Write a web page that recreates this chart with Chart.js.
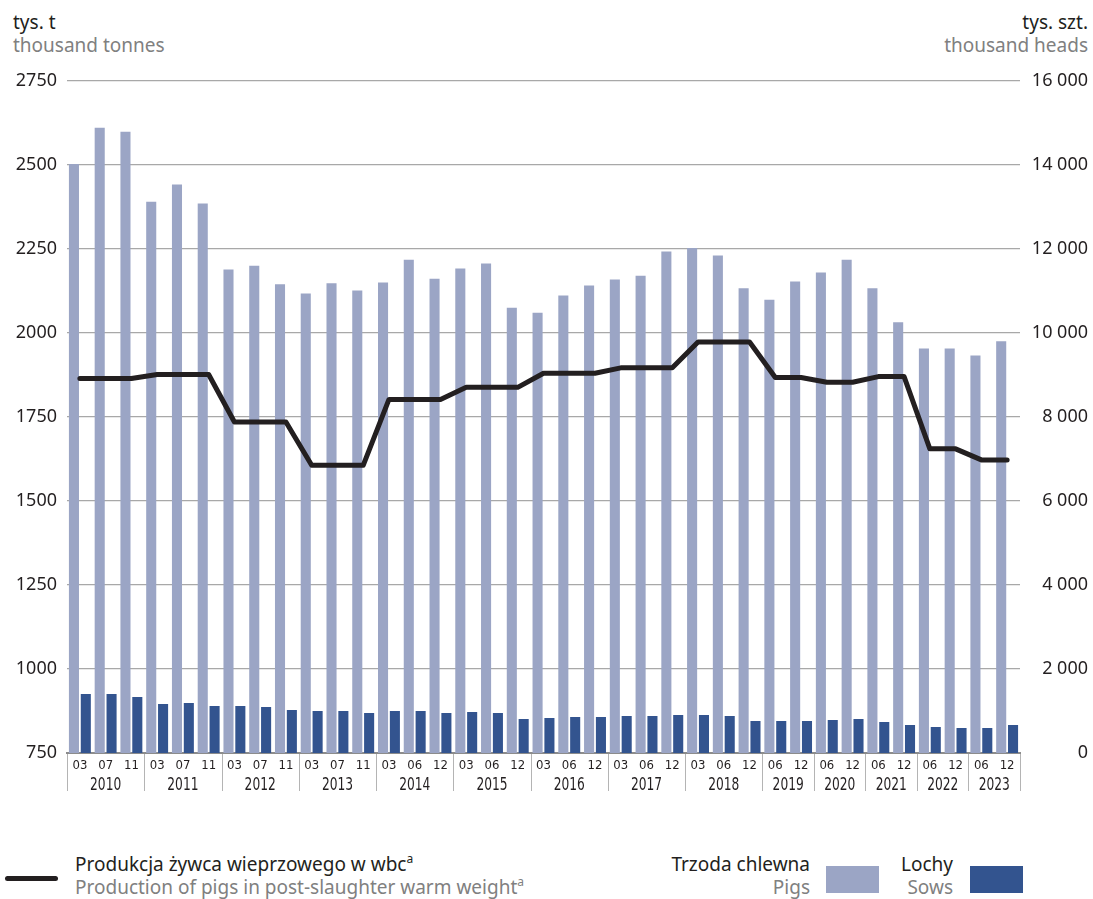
<!DOCTYPE html>
<html>
<head>
<meta charset="utf-8">
<title>Trzoda chlewna i produkcja żywca wieprzowego</title>
<script src="https://cdn.jsdelivr.net/npm/chart.js"></script>
<style>
  body { margin: 0; background: #fff; font-family: 'Noto Sans', sans-serif; }
  #page { position: relative; width: 1093px; height: 899px; overflow: hidden; }
  #chart-box { position: absolute; left: 0; top: 60px; width: 1093px; height: 750px; }
  .t { position: absolute; white-space: nowrap; font-size: 19px; line-height: 22px; }
  .pl { color: #231f20; }
  .en { color: #808080; }
  .r { text-align: right; }
  sup { font-size: 12px; line-height: 0; vertical-align: 8px; }
  .swatch { position: absolute; width: 53px; height: 27px; }
  #line-key { position: absolute; left: 5px; top: 876px; width: 53px; height: 5px; border-radius: 3px; background: #231f20; }
</style>
</head>
<body>
<div id="page">
  <div class="t pl" style="left:13px; top:11px;">tys. t</div>
  <div class="t en" style="left:13px; top:34px;">thousand tonnes</div>
  <div class="t pl r" style="right:5px; top:11px;">tys. szt.</div>
  <div class="t en r" style="right:5px; top:34px;">thousand heads</div>

  <div id="chart-box"><canvas id="chart" width="1093" height="750"></canvas></div>

  <div id="line-key"></div>
  <div class="t pl" style="left:75px; top:853px;">Produkcja żywca wieprzowego w wbc<sup>a</sup></div>
  <div class="t en" style="left:75px; top:876px;">Production of pigs in post-slaughter warm weight<sup>a</sup></div>

  <div class="t pl r" style="right:283px; top:853px;">Trzoda chlewna</div>
  <div class="t en r" style="right:283px; top:876px;">Pigs</div>
  <div class="swatch" style="left:826px; top:866px; background:#9ba5c5;"></div>

  <div class="t pl r" style="right:140px; top:853px;">Lochy</div>
  <div class="t en r" style="right:140px; top:876px;">Sows</div>
  <div class="swatch" style="left:970px; top:866px; background:#33548f;"></div>
</div>

<script>
  // periods (month of survey) and the years they belong to
  const months = ['03', '07', '11', '03', '07', '11', '03', '07', '11', '03', '07', '11',
                  '03', '06', '12', '03', '06', '12', '03', '06', '12', '03', '06', '12',
                  '03', '06', '12', '06', '12', '06', '12', '06', '12', '06', '12', '06', '12'];
  const years = ['2010', '2011', '2012', '2013', '2014', '2015', '2016', '2017',
                 '2018', '2019', '2020', '2021', '2022', '2023'];
  const yearCounts = [3, 3, 3, 3, 3, 3, 3, 3, 3, 2, 2, 2, 2, 2];

  // thousand heads (right axis)
  const pigs = [14020, 14880, 14790, 13120, 13530, 13080, 11510, 11600, 11160,
                10940, 11180, 11010, 11200, 11740, 11290, 11530, 11650, 10600,
                10480, 10890, 11130, 11270, 11360, 11935, 12020, 11840, 11060,
                10790, 11220, 11440, 11740, 11060, 10250, 9630, 9630, 9460, 9800];
  const sows = [1403, 1403, 1331, 1165, 1189, 1117, 1117, 1094, 1022,
                999, 999, 951, 999, 999, 951, 975, 951, 808,
                832, 856, 856, 880, 880, 903, 903, 880, 761,
                761, 761, 785, 808, 737, 666, 618, 594, 594, 666];

  // thousand tonnes (left axis), yearly value shown at each period
  const production = [1864, 1864, 1864, 1876, 1876, 1876, 1735, 1735, 1735,
                      1606, 1606, 1606, 1802, 1802, 1802, 1838, 1838, 1838,
                      1880, 1880, 1880, 1896, 1896, 1896, 1973, 1973, 1973,
                      1867, 1867, 1853, 1853, 1870, 1870, 1655, 1655, 1622, 1622];

  const narrow = '"DejaVu Sans Condensed", "Liberation Sans Narrow", sans-serif';

  function spaced(v) {
    return String(v).replace(/\B(?=(\d{3})+(?!\d))/g, ' ');
  }

  // year labels and the separators under the month ticks
  const yearLabels = {
    id: 'yearLabels',
    afterDraw(chart) {
      const xs = chart.scales.x;
      const area = chart.chartArea;
      const ctx = chart.ctx;
      const half = (xs.getPixelForValue(1) - xs.getPixelForValue(0)) / 2;
      ctx.save();
      ctx.strokeStyle = '#b4b4b4';
      ctx.lineWidth = 1;
      ctx.fillStyle = '#231f20';
      ctx.font = '17px ' + narrow;
      ctx.textAlign = 'center';
      ctx.textBaseline = 'middle';
      let start = 0;
      years.forEach((yr, k) => {
        const end = start + yearCounts[k] - 1;
        const left = xs.getPixelForValue(start) - half;
        const right = xs.getPixelForValue(end) + half;
        const edges = k === years.length - 1 ? [left, right] : [left];
        edges.forEach(px => {
          const xx = Math.round(px) + 0.5;
          ctx.beginPath();
          ctx.moveTo(xx, area.bottom + 1);
          ctx.lineTo(xx, area.bottom + 38);
          ctx.stroke();
        });
        // squeezed a bit, the original uses a condensed face
        ctx.save();
        ctx.translate((left + right) / 2, area.bottom + 33);
        ctx.scale(0.8, 1);
        ctx.fillText(yr, 0, 0);
        ctx.restore();
        start = end + 1;
      });
      ctx.restore();
    }
  };

  new Chart(document.getElementById('chart'), {
    data: {
      labels: months,
      datasets: [
        {
          type: 'line',
          label: 'Produkcja żywca wieprzowego w wbc',
          data: production,
          yAxisID: 'y',
          order: 0,
          borderColor: '#231f20',
          borderWidth: 5,
          borderJoinStyle: 'round',
          borderCapStyle: 'round',
          pointRadius: 0,
          tension: 0
        },
        {
          type: 'bar',
          label: 'Trzoda chlewna',
          data: pigs,
          yAxisID: 'y1',
          order: 1,
          backgroundColor: '#9ba5c5',
          categoryPercentage: 0.92,
          barPercentage: 0.85
        },
        {
          type: 'bar',
          label: 'Lochy',
          data: sows,
          yAxisID: 'y1',
          order: 1,
          backgroundColor: '#33548f',
          categoryPercentage: 0.92,
          barPercentage: 0.85
        }
      ]
    },
    options: {
      responsive: false,
      animation: false,
      layout: { padding: { top: 20, right: 5, bottom: 0, left: 0 } },
      plugins: {
        legend: { display: false },
        tooltip: { enabled: false }
      },
      scales: {
        x: {
          offset: true,
          grid: { display: false, drawTicks: false },
          border: { display: true, color: '#8c8c8c', width: 2 },
          ticks: {
            autoSkip: false,
            maxRotation: 0,
            padding: 5,
            color: '#231f20',
            font: { family: narrow, size: 13 }
          },
          afterFit(scale) { scale.height = 57; }
        },
        y: {
          position: 'left',
          min: 750,
          max: 2750,
          ticks: {
            stepSize: 250,
            padding: 10,
            color: '#231f20',
            font: { family: 'Noto Sans', size: 18 },
            callback: v => String(v)
          },
          grid: { color: '#a8a8a8', lineWidth: 1.3, drawTicks: false },
          border: { display: false },
          afterFit(scale) { scale.width = 67; }
        },
        y1: {
          position: 'right',
          min: 0,
          max: 16000,
          ticks: {
            stepSize: 2000,
            padding: 10,
            crossAlign: 'far',
            color: '#231f20',
            font: { family: 'Noto Sans', size: 18 },
            callback: v => spaced(v)
          },
          grid: { display: false, drawTicks: false },
          border: { display: false },
          afterFit(scale) { scale.width = 68; }
        }
      }
    },
    plugins: [yearLabels]
  });
</script>
</body>
</html>
